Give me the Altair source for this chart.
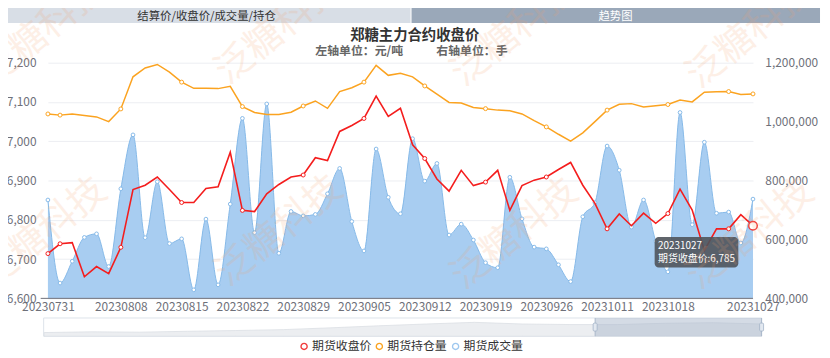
import altair as alt
import pandas as pd

# ---------------- data ----------------
dates = [
    "20230731", "20230801", "20230802", "20230803", "20230804",
    "20230807", "20230808", "20230809", "20230810", "20230811",
    "20230814", "20230815", "20230816", "20230817", "20230818",
    "20230821", "20230822", "20230823", "20230824", "20230825",
    "20230828", "20230829", "20230830", "20230831", "20230901",
    "20230904", "20230905", "20230906", "20230907", "20230908",
    "20230911", "20230912", "20230913", "20230914", "20230915",
    "20230918", "20230919", "20230920", "20230921", "20230922",
    "20230925", "20230926", "20230927", "20230928",
    "20231009", "20231010", "20231011", "20231012", "20231013",
    "20231016", "20231017", "20231018", "20231019", "20231020",
    "20231023", "20231024", "20231025", "20231026", "20231027",
]
close_price = [
    6714, 6739, 6742, 6655, 6681, 6663, 6730, 6877, 6888, 6909,
    6877, 6844, 6844, 6880, 6884, 6972, 6824, 6821, 6866, 6890,
    6909, 6914, 6958, 6951, 7025, 7040, 7058, 7115, 7063, 7084,
    6991, 6956, 6904, 6873, 6926, 6887, 6896, 6926, 6824, 6887,
    6901, 6909, 6928, 6946, 6888, 6842, 6777, 6815, 6785, 6817,
    6791, 6816, 6878, 6825, 6722, 6777, 6777, 6813, 6785,
]
open_interest = [
    1026000, 1022000, 1026000, 1021000, 1016000, 1000000, 1043000, 1152000, 1182000, 1194000,
    1168000, 1134000, 1113000, 1113000, 1112000, 1120000, 1051000, 1031000, 1024000, 1024000,
    1032000, 1053000, 1070000, 1045000, 1102000, 1115000, 1134000, 1191000, 1157000, 1164000,
    1152000, 1121000, 1093000, 1065000, 1063000, 1048000, 1044000, 1039000, 1037000, 1026000,
    1003000, 982000, 957000, 934000, 962000, 1000000, 1039000, 1059000, 1061000, 1050000,
    1054000, 1058000, 1073000, 1067000, 1100000, 1101000, 1102000, 1092000, 1094000,
]
volume = [
    734000, 452000, 526000, 607000, 619000, 508000, 772000, 955000, 606000, 796000,
    586000, 602000, 429000, 669000, 446000, 720000, 1011000, 623000, 1060000, 553000,
    695000, 680000, 685000, 755000, 841000, 661000, 561000, 907000, 743000, 687000,
    942000, 798000, 858000, 615000, 652000, 598000, 521000, 504000, 811000, 670000,
    574000, 568000, 514000, 457000, 677000, 725000, 917000, 835000, 642000, 734000,
    594000, 490000, 1031000, 650000, 930000, 689000, 693000, 588000, 737000,
]
# relative height of the data-zoom shadow (longer history)
slider_shadow = [0.20, 0.24, 0.22, 0.27, 0.31, 0.36, 0.46, 0.57,
                 0.67, 0.76, 0.67, 0.64, 0.64, 0.71, 0.74, 0.67]

left_ticks = [6600, 6700, 6800, 6900, 7000, 7100, 7200]
right_ticks = [400000, 600000, 800000, 1000000, 1200000]
legend_names = ["期货收盘价", "期货持仓量", "期货成交量"]
tab_labels = ["结算价/收盘价/成交量/持仓", "趋势图"]
chart_title = "郑糖主力合约收盘价"
unit_left = "左轴单位：元/吨"
unit_right = "右轴单位：手"
watermark = "泛糖科技"
tooltip_date = "20231027"
tooltip_text = "期货收盘价:6,785"

# ---------------- layout ----------------
W, H = 712, 238
OX, OY = 48.3, 61.5          # page position of plot origin
FONT = "Noto Sans CJK SC"
RED = "#f41d1d"
ORANGE = "#fba320"
BLUE_FILL = "#a8cdf1"
BLUE_LINE = "#86b9e8"
AXIS_GRAY = "#6e7079"


def px(x):
    return x - OX


def py(y):
    return y - OY


df = pd.DataFrame({
    "date": dates,
    "close": close_price,
    "oi": open_interest,
    "vol": volume,
    "idx": list(range(len(dates))),
})
n_last = len(dates) - 1
label_dates = [dates[0]] + [dates[i] for i in range(6, n_last - 6, 5)] + [dates[-1]]
marker_filter = f"datum.idx == 0 || datum.idx % 5 == 1 || datum.idx == {n_last}"

one = pd.DataFrame({"k": [0]})
NUM_LABEL = "format(datum.value, ',')"


def xenc(show):
    if show:
        ax = alt.Axis(values=label_dates, labelAngle=0, ticks=False, domain=False,
                      labelPadding=3, labelOverlap=False, title=None, grid=False,
                      labelFontSize=12, labelColor=AXIS_GRAY)
    else:
        ax = None
    return alt.X("date:O", scale=alt.Scale(type="point", padding=0), axis=ax)


right_scale = alt.Scale(domain=[400000, 1200000], nice=False, zero=False)
right_axis = alt.Axis(orient="right", values=right_ticks, labelExpr=NUM_LABEL, grid=False,
                      domain=False, ticks=False, labelPadding=12, title=None,
                      labelFontSize=12, labelColor=AXIS_GRAY)
left_scale = alt.Scale(domain=[6600, 7200], nice=False, zero=False)
left_axis = alt.Axis(orient="left", values=left_ticks, labelExpr=NUM_LABEL, grid=True,
                     gridColor="#eceef2", gridWidth=1, domain=False, ticks=False,
                     labelPadding=12, title=None, labelFontSize=12, labelColor=AXIS_GRAY)

base = alt.Chart(df)

vol_area = base.mark_area(interpolate="monotone", color=BLUE_FILL, opacity=1,
                          line={"color": BLUE_LINE, "strokeWidth": 1}).encode(
    x=xenc(False),
    y=alt.Y("vol:Q", scale=right_scale, axis=right_axis),
    y2=alt.datum(400000),
)
vol_pts = base.mark_point(shape="circle", filled=True, fill="white", stroke=BLUE_LINE,
                          strokeWidth=1, size=14, opacity=1).encode(
    x=xenc(False),
    y=alt.Y("vol:Q", scale=right_scale, axis=right_axis),
)
oi_line = base.mark_line(color=ORANGE, strokeWidth=1.5).encode(
    x=xenc(False),
    y=alt.Y("oi:Q", scale=right_scale, axis=right_axis),
)
oi_pts = base.transform_filter(marker_filter).mark_point(
    shape="circle", filled=True, fill="white", stroke=ORANGE, strokeWidth=1,
    size=16, opacity=1).encode(
    x=xenc(False),
    y=alt.Y("oi:Q", scale=right_scale, axis=right_axis),
)
right_group = alt.layer(vol_area, vol_pts, oi_line, oi_pts)

close_line = base.mark_line(color=RED, strokeWidth=1.6).encode(
    x=xenc(True),
    y=alt.Y("close:Q", scale=left_scale, axis=left_axis),
)
close_pts = base.transform_filter(marker_filter + f" && datum.idx != {n_last}").mark_point(
    shape="circle", filled=True, fill="white", stroke=RED, strokeWidth=1,
    size=16, opacity=1).encode(
    x=xenc(True),
    y=alt.Y("close:Q", scale=left_scale, axis=left_axis),
)
close_hover = base.transform_filter(f"datum.idx == {n_last}").mark_point(
    shape="circle", filled=True, fill="white", stroke="#f03c3c", strokeWidth=1.5,
    size=75, opacity=1).encode(
    x=xenc(True),
    y=alt.Y("close:Q", scale=left_scale, axis=left_axis),
)
left_group = alt.layer(close_line, close_pts, close_hover)

# x axis line (extends a little left of the plot)
axis_line = alt.Chart(one).mark_rule(color=AXIS_GRAY, strokeWidth=1).encode(
    x=alt.value(px(41)), x2=alt.value(W), y=alt.value(H))

# ---------------- header tabs & titles ----------------
deco = []
deco.append(alt.Chart(one).mark_rect(fill="#d8dee6").encode(
    x=alt.value(px(3)), x2=alt.value(px(414.5)), y=alt.value(py(2.5)), y2=alt.value(py(21.5))))
deco.append(alt.Chart(one).mark_rect(fill="#9aa8b9").encode(
    x=alt.value(px(415.5)), x2=alt.value(px(828)), y=alt.value(py(2.5)), y2=alt.value(py(21.5))))
deco.append(alt.Chart(one).mark_text(text=tab_labels[0], fontSize=11.5, color="#333333",
                                     font=FONT).encode(
    x=alt.value(px(208.5)), y=alt.value(py(15))))
deco.append(alt.Chart(one).mark_text(text=tab_labels[1], fontSize=11.5, color="#ffffff",
                                     font=FONT).encode(
    x=alt.value(px(621.5)), y=alt.value(py(15))))
deco.append(alt.Chart(one).mark_text(text=chart_title, fontSize=14.5, fontWeight="bold",
                                     color="#333333", font=FONT).encode(
    x=alt.value(px(418.7)), y=alt.value(py(35))))
deco.append(alt.Chart(one).mark_text(text=unit_left, fontSize=12, fontWeight="bold",
                                     color="#666666", font=FONT).encode(
    x=alt.value(px(362.6)), y=alt.value(py(50))))
deco.append(alt.Chart(one).mark_text(text=unit_right, fontSize=12, fontWeight="bold",
                                     color="#666666", font=FONT).encode(
    x=alt.value(px(476.5)), y=alt.value(py(50))))

# ---------------- data-zoom slider ----------------
SL_X0, SL_X1, SL_Y0, SL_Y1 = 44, 769, 319.3, 337.7
SEL_X0 = 600.9
slider = []
slider.append(alt.Chart(one).mark_rect(fill="white", stroke="#dde3ea", strokeWidth=1).encode(
    x=alt.value(px(SL_X0)), x2=alt.value(px(SL_X1)), y=alt.value(py(SL_Y0)), y2=alt.value(py(SL_Y1))))
sh_df = pd.DataFrame({"s": list(range(len(slider_shadow))), "v": slider_shadow})
slider.append(alt.Chart(sh_df).mark_area(fill="#eceef1", stroke="#dcdfe4", strokeWidth=0.8).encode(
    x=alt.X("s:Q", scale=alt.Scale(domain=[0, len(slider_shadow) - 1],
                                   range=[px(SL_X0 + 0.5), px(SL_X1 - 0.5)]), axis=None),
    y=alt.Y("v:Q", scale=alt.Scale(domain=[0, 1], range=[py(SL_Y1), py(SL_Y0)]), axis=None),
    y2=alt.datum(0),
))
slider.append(alt.Chart(one).mark_rect(fill="#a9b8cc", opacity=0.5).encode(
    x=alt.value(px(SEL_X0)), x2=alt.value(px(SL_X1)), y=alt.value(py(SL_Y0)), y2=alt.value(py(SL_Y1))))
for hx in (SEL_X0, SL_X1):
    slider.append(alt.Chart(one).mark_rule(color="#aab8ca", strokeWidth=1).encode(
        x=alt.value(px(hx)), y=alt.value(py(SL_Y0)), y2=alt.value(py(SL_Y1))))
    slider.append(alt.Chart(one).mark_rect(fill="#e2e8f0", stroke="#a3b3c7", strokeWidth=0.8,
                                           cornerRadius=1).encode(
        x=alt.value(px(hx - 2)), x2=alt.value(px(hx + 2)),
        y=alt.value(py(324.5)), y2=alt.value(py(332.5))))

# ---------------- legend ----------------
legend_colors = ["#f03c3c", ORANGE, "#9fc8ef"]
legend_circle_x = [307, 383, 460]
LEG_Y = 348
legend = []
for name, col, cx in zip(legend_names, legend_colors, legend_circle_x):
    legend.append(alt.Chart(one).mark_point(shape="circle", filled=True, fill="white",
                                            stroke=col, strokeWidth=1.4, size=38,
                                            opacity=1).encode(
        x=alt.value(px(cx)), y=alt.value(py(LEG_Y))))
    legend.append(alt.Chart(one).mark_text(text=name, fontSize=12, color="#333333",
                                           align="left", font=FONT).encode(
        x=alt.value(px(cx + 8)), y=alt.value(py(LEG_Y))))

# ---------------- tooltip ----------------
tip = [
    alt.Chart(one).mark_rect(fill="#4f545b", opacity=0.9, cornerRadius=4).encode(
        x=alt.value(px(661)), x2=alt.value(px(745.5)), y=alt.value(py(237.5)), y2=alt.value(py(268.3))),
    alt.Chart(one).mark_text(text=tooltip_date, fontSize=10, color="white", align="left",
                             font=FONT).encode(
        x=alt.value(px(664.5)), y=alt.value(py(246.8))),
    alt.Chart(one).mark_text(text=tooltip_text, fontSize=10, color="white", align="left",
                             font=FONT).encode(
        x=alt.value(px(664.5)), y=alt.value(py(259.5))),
]

# ---------------- watermark ----------------
wm_centers = [(44, 30), (282, 28), (520, 30), (758, 32),
              (44, 234), (282, 232), (520, 235), (758, 235)]
wm = []
for cx, cy in wm_centers:
    wm.append(alt.Chart(one).mark_text(text=watermark, fontSize=38, angle=321,
                                       color="#f6a06a", opacity=0.16, font=FONT).encode(
        x=alt.value(px(cx)), y=alt.value(py(cy))))

chart = alt.layer(
    *deco, right_group, left_group, axis_line, *slider, *legend, *tip, *wm
).resolve_scale(
    x="independent", y="independent"
).properties(
    width=W, height=H,
    autosize=alt.AutoSizeParams(type="none"),
    padding={"left": OX - 8, "top": OY - 8, "right": 822 - (OX - 8) - W, "bottom": 350 - (OY - 8) - H},
    background="white",
).configure(
    font=FONT,
).configure_view(
    stroke=None,
)

chart.save("out.html", embed_options={"renderer": "svg", "actions": False})
